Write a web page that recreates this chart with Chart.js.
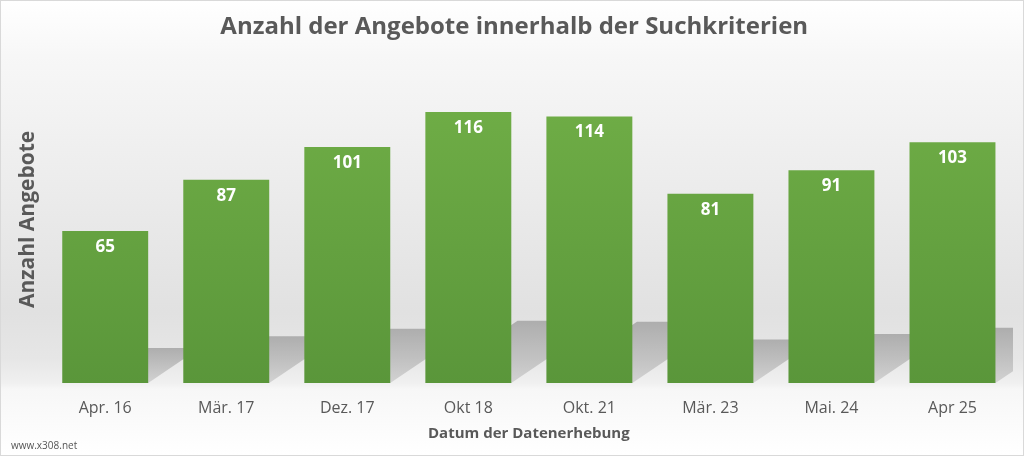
<!DOCTYPE html>
<html>
<head>
<meta charset="utf-8">
<script src="https://cdn.jsdelivr.net/npm/chart.js@4.4.1/dist/chart.umd.min.js"></script>
<style>
  html, body { margin: 0; padding: 0; background: #fff; }
  #wrap { position: relative; width: 1022px; height: 454px; border: 1px solid #d9d9d9; }
  #mark { position: absolute; left: 10px; top: 437px; font: 10px "Open Sans", sans-serif; color: #555; }
</style>
</head>
<body>
<div id="wrap">
  <canvas id="myBar" width="1022" height="454"></canvas>
  <div id="mark">www.x308.net</div>
</div>
<script>
var labels = ['Apr. 16', 'Mär. 17', 'Dez. 17', 'Okt 18', 'Okt. 21', 'Mär. 23', 'Mai. 24', 'Apr 25'];
var counts = [65, 87, 101, 116, 114, 81, 91, 103];
var yMax = 140;

var grey = '#595959';

// light grey wall behind the bars
var backdrop = {
  id: 'backdrop',
  beforeDraw: function(chart) {
    var ctx = chart.ctx, a = chart.chartArea;
    var g = ctx.createLinearGradient(0, 0, 0, chart.height);
    g.addColorStop(0, '#ffffff');
    g.addColorStop(a.top / chart.height, '#f7f7f7');
    g.addColorStop((a.bottom - 70) / chart.height, '#e1e1e1');
    g.addColorStop((a.bottom - 25) / chart.height, '#e6e6e6');
    g.addColorStop(a.bottom / chart.height, '#f0f0f0');
    g.addColorStop((a.bottom + 6) / chart.height, '#f7f7f7');
    g.addColorStop(1, '#ffffff');
    ctx.save();
    ctx.fillStyle = g;
    ctx.fillRect(0, 0, chart.width, chart.height);
    ctx.restore();
  },
  // floor shadows, taken from the bar elements
  beforeDatasetsDraw: function(chart) {
    var ctx = chart.ctx, a = chart.chartArea;
    var bars = chart.getDatasetMeta(0).data;
    ctx.save();
    ctx.beginPath();
    ctx.rect(a.left, a.top, a.right - a.left, a.bottom - a.top);
    ctx.clip();
    bars.forEach(function(b) {
      var h = b.base - b.y;
      var sh = h * 0.23, sx = h * 0.34;
      var l = b.x - b.width / 2, r = b.x + b.width / 2;
      var g = ctx.createLinearGradient(0, b.base - sh, 0, b.base);
      g.addColorStop(0, 'rgba(160,160,160,0.8)');
      g.addColorStop(1, 'rgba(175,175,175,0.45)');
      ctx.fillStyle = g;
      ctx.beginPath();
      ctx.moveTo(l, b.base);
      ctx.lineTo(r, b.base);
      ctx.lineTo(r + sx, b.base - sh);
      ctx.lineTo(l + sx, b.base - sh);
      ctx.closePath();
      ctx.fill();
    });
    ctx.restore();
  }
};

// white value labels inside the top of each bar
var valueLabels = {
  id: 'valueLabels',
  afterDatasetsDraw: function(chart) {
    var ctx = chart.ctx;
    var bars = chart.getDatasetMeta(0).data;
    ctx.save();
    ctx.font = 'bold 17px "Open Sans", sans-serif';
    ctx.fillStyle = '#ffffff';
    ctx.textAlign = 'center';
    ctx.textBaseline = 'middle';
    bars.forEach(function(b, i) {
      ctx.fillText(counts[i], b.x, b.y + 16);
    });
    ctx.restore();
  }
};

var ctx = document.getElementById('myBar').getContext('2d');
var barFill = ctx.createLinearGradient(0, 100, 0, 383);
barFill.addColorStop(0, '#6fad46');
barFill.addColorStop(1, '#5a963a');

var myBar = new Chart(ctx, {
  type: 'bar',
  data: {
    labels: labels,
    datasets: [{
      data: counts,
      backgroundColor: barFill,
      borderWidth: 0,
      categoryPercentage: 1,
      barPercentage: 0.71
    }]
  },
  options: {
    responsive: false,
    animation: false,
    layout: { padding: { left: 14.5, right: 10, top: 8, bottom: 12 } },
    plugins: {
      legend: { display: false },
      tooltip: { enabled: false },
      title: {
        display: true,
        text: 'Anzahl der Angebote innerhalb der Suchkriterien',
        color: grey,
        font: { family: 'Open Sans', size: 24, weight: 'bold' },
        padding: { top: 4, bottom: 14 }
      }
    },
    scales: {
      x: {
        grid: { display: false, drawTicks: false },
        border: { display: false },
        ticks: { color: grey, font: { family: 'Open Sans', size: 16 }, padding: 16 },
        title: {
          display: true,
          text: 'Datum der Datenerhebung',
          color: grey,
          font: { family: 'Open Sans', size: 15, weight: 'bold' },
          padding: { top: 4, bottom: 0 }
        },
        afterFit: function(scale) { scale.height = 60; }
      },
      y: {
        min: 0,
        max: yMax,
        grid: { display: false, drawTicks: false },
        border: { display: false },
        ticks: { display: false },
        title: {
          display: true,
          text: 'Anzahl Angebote',
          color: grey,
          font: { family: 'Open Sans', size: 21, weight: 'bold' },
          padding: { top: 0, bottom: 4 }
        }
      }
    }
  },
  plugins: [backdrop, valueLabels]
});
</script>
</body>
</html>
